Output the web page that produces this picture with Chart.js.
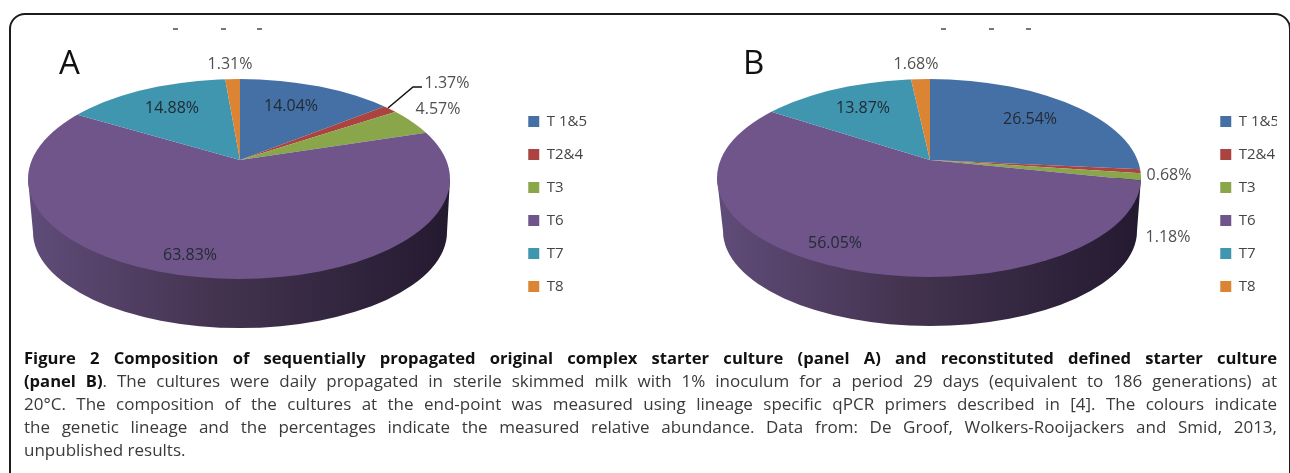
<!DOCTYPE html>
<html>
<head>
<meta charset="utf-8">
<title>Figure 2</title>
<script src="https://cdn.jsdelivr.net/npm/chart.js@4"></script>
<style>
html, body { margin: 0; padding: 0; background: #fff; }
#page { position: relative; width: 1290px; height: 473px; overflow: hidden; font-family: "Open Sans", sans-serif; }
#frame { position: absolute; left: 9px; top: 13px; width: 1278px; height: 480px; border: 2px solid #1c1c1c; border-radius: 16px; }
canvas { position: absolute; top: 0; }
#chartA { left: 0; }
#chartB { left: 690px; clip-path: inset(0 12px 0 0); }
.panel { position: absolute; top: 40px; font-size: 33px; line-height: 44px; color: #111; }
.tick { position: absolute; top: 28px; width: 5px; height: 2px; background: #777; }
#caption { position: absolute; left: 24px; top: 346px; width: 1253px; font-size: 17px; color: #3a3a3a; }
#caption div { height: 23px; line-height: 23px; text-align: justify; text-align-last: justify; white-space: nowrap; }
#caption div.last { text-align-last: left; }
#caption b { color: #111; font-size: 16.6px; line-height: 1; }
</style>
</head>
<body>
<div id="page">
  <div id="frame"></div>
  <span class="tick" style="left:173px"></span>
  <span class="tick" style="left:221px"></span>
  <span class="tick" style="left:257px"></span>
  <span class="tick" style="left:941px"></span>
  <span class="tick" style="left:989px"></span>
  <span class="tick" style="left:1026px"></span>
  <canvas id="chartA" width="597" height="408"></canvas>
  <canvas id="chartB" width="599" height="408"></canvas>
  <span class="panel" style="left:59px">A</span>
  <span class="panel" style="left:743px">B</span>
  <div id="caption">
    <div><b>Figure 2 Composition of sequentially propagated original complex starter culture (panel A) and reconstituted defined starter culture</b></div>
    <div><b>(panel B)</b>. The cultures were daily propagated in sterile skimmed milk with 1% inoculum for a period 29 days (equivalent to 186 generations) at</div>
    <div>20°C. The composition of the cultures at the end-point was measured using lineage specific qPCR primers described in [4]. The colours indicate</div>
    <div>the genetic lineage and the percentages indicate the measured relative abundance. Data from: De Groof, Wolkers-Rooijackers and Smid, 2013,</div>
    <div class="last">unpublished results.</div>
  </div>
</div>
<script>
const categories = ['T 1&5', 'T2&4', 'T3', 'T6', 'T7', 'T8'];
const valuesA = [14.04, 1.37, 4.57, 63.83, 14.88, 1.31];
const valuesB = [26.54, 0.68, 1.18, 56.05, 13.87, 1.68];
const sliceColors = ['#4570a6', '#ab4441', '#8aa64b', '#70558b', '#4096af', '#db8433'];

// perspective of the disc: slices fan out from the apex, the rim is an ellipse
const viewA = {
    apex: [240, 160], squash: 0.45, reach: 270,
    top: [239, 179, 211, 100], bottom: [240, 232, 207, 96],
    labels: [[291, 106], [447, 83], [438, 109], [190, 255], [172, 108], [230, 64]],
    dark: [true, false, false, true, true, false],
    leader: [[388, 108], [413, 87], [422, 87]]
};
const viewB = {
    apex: [240, 160], squash: 0.45, reach: 270,
    top: [239, 178, 212, 99], bottom: [240, 231, 207, 95],
    labels: [[340, 119], [479, 175], [478, 237], [145, 243], [173, 108], [226, 64]],
    dark: [true, false, false, true, true, false]
};

const discPlugin = {
    id: 'disc',
    beforeDatasetsDraw(chart, args, opts) {
        const ctx = chart.ctx;
        const [tx, ty, trx, try_] = opts.top;
        const [bx, by, brx, bry] = opts.bottom;

        // side wall, only the front shows
        const wall = ctx.createLinearGradient(tx - trx, 0, tx + trx, 0);
        wall.addColorStop(0, '#604c79');
        wall.addColorStop(0.45, '#43334f');
        wall.addColorStop(1, '#241a30');
        ctx.save();
        ctx.fillStyle = wall;
        ctx.beginPath();
        ctx.moveTo(tx - trx, ty);
        ctx.lineTo(bx - brx, by);
        ctx.ellipse(bx, by, brx, bry, 0, Math.PI, 0, true);
        ctx.lineTo(tx + trx, ty);
        ctx.closePath();
        ctx.fill();
        ctx.restore();

        // top face: the chart's own arcs, clipped to the rim
        const arc = chart.getDatasetMeta(0).data[0];
        const k = opts.reach / arc.outerRadius;
        ctx.save();
        ctx.beginPath();
        ctx.ellipse(tx, ty, trx, try_, 0, 0, Math.PI * 2);
        ctx.clip();
        ctx.translate(opts.apex[0], opts.apex[1]);
        ctx.scale(k, k * opts.squash);
        ctx.translate(-arc.x, -arc.y);
    },
    afterDatasetsDraw(chart, args, opts) {
        const ctx = chart.ctx;
        ctx.restore();

        ctx.save();
        ctx.font = '16px "Open Sans"';
        ctx.textAlign = 'center';
        ctx.textBaseline = 'middle';
        chart.data.datasets[0].data.forEach((v, i) => {
            ctx.fillStyle = opts.dark[i] ? '#222b33' : '#505050';
            ctx.fillText(v.toFixed(2) + '%', opts.labels[i][0], opts.labels[i][1]);
        });
        if (opts.leader) {
            ctx.strokeStyle = '#111';
            ctx.lineWidth = 1.5;
            ctx.beginPath();
            opts.leader.forEach((p, i) => i ? ctx.lineTo(p[0], p[1]) : ctx.moveTo(p[0], p[1]));
            ctx.stroke();
        }
        ctx.restore();
    }
};

const createPie = (id, values, view) => {
    new Chart(document.getElementById(id), {
        type: 'pie',
        data: {
            labels: categories,
            datasets: [{
                data: values,
                backgroundColor: sliceColors,
                borderWidth: 0,
                clip: false
            }]
        },
        options: {
            responsive: false,
            animation: false,
            devicePixelRatio: 1,
            plugins: {
                disc: view,
                tooltip: { enabled: false },
                legend: {
                    position: 'right',
                    labels: {
                        boxWidth: 11,
                        boxHeight: 11,
                        padding: 18,
                        color: '#444',
                        font: { family: '"Open Sans"', size: 15 }
                    }
                }
            }
        },
        plugins: [discPlugin]
    });
};

createPie('chartA', valuesA, viewA);
createPie('chartB', valuesB, viewB);
</script>
</body>
</html>
